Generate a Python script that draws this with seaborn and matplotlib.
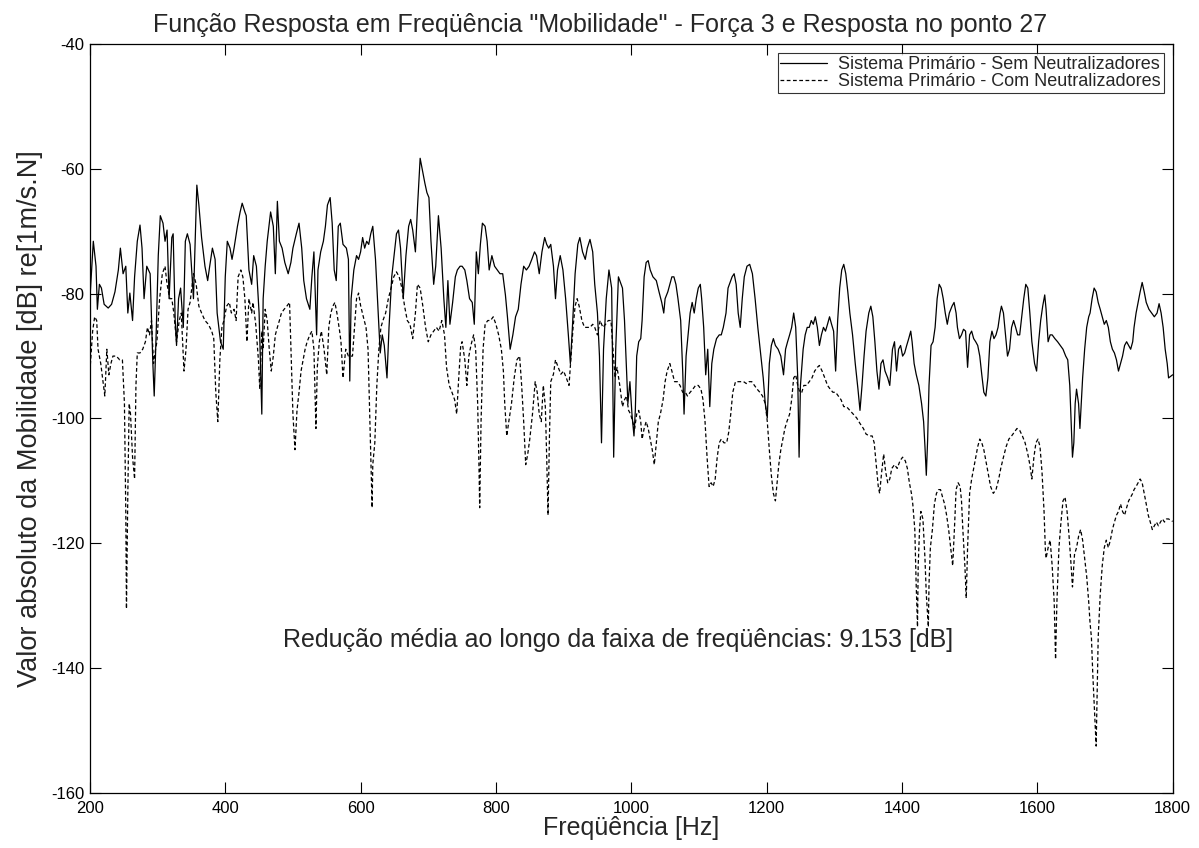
import matplotlib
matplotlib.use("Agg")
import matplotlib.pyplot as plt
import seaborn as sns
import pandas as pd

# Estilo parecido com o MATLAB
sns.set_style("ticks")
plt.rcParams["font.family"] = ["Liberation Sans", "DejaVu Sans"]
plt.rcParams["axes.unicode_minus"] = False

# Sistema primario - sem neutralizadores (Hz, dB)
freq_sem = [200, 205, 209, 211, 214, 217, 221, 227, 232, 237, 242, 245, 249, 253, 256, 259, 263, 266, 270, 274,
            277, 280, 284, 289, 293, 295, 298, 301, 304, 308, 311, 314, 317, 321, 323, 326, 328, 331, 334, 338,
            341, 344, 348, 353, 358, 361, 365, 370, 374, 377, 381, 385, 388, 393, 397, 400, 403, 407, 410, 413,
            418, 422, 425, 429, 431, 435, 439, 442, 446, 450, 454, 456, 459, 462, 467, 471, 474, 477, 480, 484,
            488, 493, 497, 500, 505, 509, 513, 516, 520, 525, 528, 531, 535, 537, 541, 545, 548, 551, 555, 558,
            561, 564, 567, 570, 574, 579, 582, 584, 586, 590, 594, 597, 600, 603, 606, 609, 612, 615, 618, 622,
            626, 629, 632, 635, 639, 642, 646, 650, 653, 656, 659, 663, 667, 671, 674, 677, 681, 684, 688, 691,
            695, 698, 701, 704, 708, 711, 715, 719, 723, 726, 729, 732, 736, 740, 743, 747, 750, 754, 757, 761,
            765, 768, 771, 774, 777, 780, 784, 787, 790, 794, 798, 802, 806, 810, 814, 817, 821, 825, 829, 833,
            837, 841, 845, 849, 853, 857, 860, 864, 868, 872, 875, 878, 881, 885, 888, 891, 895, 899, 903, 907,
            910, 913, 917, 921, 924, 928, 932, 935, 939, 943, 946, 950, 953, 956, 959, 963, 967, 971, 974, 977,
            981, 987, 990, 993, 995, 998, 1001, 1004, 1006, 1008, 1011, 1014, 1016, 1019, 1022, 1025, 1028, 1032,
            1037, 1041, 1045, 1048, 1050, 1054, 1057, 1060, 1063, 1066, 1069, 1073, 1076, 1078, 1081, 1084, 1087,
            1090, 1093, 1096, 1099, 1102, 1104, 1107, 1110, 1113, 1116, 1119, 1122, 1126, 1130, 1133, 1136, 1140,
            1143, 1147, 1149, 1152, 1155, 1158, 1161, 1164, 1167, 1171, 1175, 1179, 1183, 1187, 1191, 1195, 1198,
            1201, 1204, 1207, 1210, 1213, 1217, 1221, 1225, 1228, 1231, 1234, 1237, 1240, 1243, 1246, 1248, 1250,
            1254, 1257, 1260, 1263, 1266, 1269, 1272, 1275, 1278, 1281, 1284, 1287, 1290, 1293, 1296, 1299, 1302,
            1305, 1308, 1311, 1314, 1317, 1320, 1323, 1327, 1331, 1335, 1338, 1341, 1344, 1347, 1351, 1354, 1357,
            1360, 1363, 1366, 1369, 1372, 1375, 1379, 1382, 1386, 1389, 1392, 1395, 1398, 1401, 1404, 1407, 1410,
            1413, 1415, 1418, 1421, 1425, 1429, 1432, 1434, 1436, 1438, 1440, 1443, 1446, 1449, 1452, 1455, 1458,
            1461, 1464, 1467, 1470, 1474, 1477, 1480, 1482, 1485, 1488, 1491, 1494, 1497, 1500, 1503, 1506, 1509,
            1512, 1515, 1518, 1521, 1524, 1527, 1530, 1533, 1536, 1539, 1542, 1545, 1547, 1550, 1553, 1556, 1559,
            1562, 1565, 1568, 1571, 1574, 1577, 1580, 1583, 1586, 1589, 1592, 1596, 1599, 1602, 1605, 1608, 1611,
            1613, 1616, 1619, 1622, 1626, 1630, 1634, 1638, 1642, 1645, 1648, 1650, 1652, 1654, 1656, 1658, 1661,
            1663, 1665, 1667, 1670, 1673, 1676, 1678, 1681, 1684, 1687, 1690, 1693, 1696, 1699, 1702, 1705, 1708,
            1711, 1714, 1717, 1720, 1723, 1726, 1729, 1732, 1735, 1738, 1741, 1743, 1746, 1749, 1752, 1755, 1758,
            1761, 1765, 1769, 1773, 1777, 1780, 1783, 1786, 1789, 1792, 1794, 1800]
db_sem = [-80.8, -71.6, -75.6, -82.5, -78.5, -79.1, -81.7, -82.3, -81.7, -79.7, -76.2, -72.7, -76.8, -75.6, -83.1,
          -79.9, -84.3, -77.3, -71.6, -69.0, -72.7, -80.8, -75.6, -76.8, -91.2, -96.4, -86.0, -73.9, -67.5, -68.7,
          -71.6, -69.8, -80.8, -71.0, -70.4, -84.3, -88.3, -80.8, -79.1, -85.4, -71.6, -70.4, -72.1, -80.8, -62.6,
          -65.8, -71.0, -75.6, -77.9, -75.6, -72.7, -74.5, -83.1, -87.7, -88.9, -77.3, -71.6, -72.7, -74.5, -72.7,
          -69.2, -66.9, -65.5, -66.9, -67.5, -76.2, -78.5, -73.9, -75.6, -83.1, -99.3, -80.8, -75.6, -71.6, -66.9,
          -69.2, -76.8, -65.2, -71.6, -72.7, -75.0, -76.8, -75.0, -72.7, -70.4, -68.7, -72.7, -77.9, -80.8, -82.5,
          -77.3, -73.3, -86.6, -76.2, -73.3, -71.6, -69.2, -65.8, -64.6, -68.7, -76.2, -77.9, -69.2, -68.7, -72.1,
          -72.7, -74.5, -94.0, -80.8, -76.2, -73.9, -74.5, -73.3, -71.0, -72.7, -71.6, -72.1, -70.4, -69.2, -74.5,
          -83.1, -89.5, -86.6, -88.3, -93.5, -85.4, -77.3, -73.3, -70.4, -69.8, -72.7, -80.8, -73.9, -69.2, -68.1,
          -69.8, -73.3, -66.3, -58.3, -60.0, -62.3, -63.8, -64.6, -71.6, -78.5, -75.6, -67.5, -72.7, -80.8, -85.4,
          -77.9, -84.9, -81.4, -77.3, -76.2, -75.6, -75.6, -76.2, -77.9, -80.8, -81.4, -84.9, -73.3, -76.8, -72.1,
          -68.7, -69.2, -71.6, -76.2, -73.9, -75.6, -76.2, -76.8, -76.8, -80.2, -83.7, -88.9, -86.6, -83.7, -82.5,
          -78.5, -75.6, -76.2, -75.6, -74.5, -73.3, -73.9, -76.8, -73.3, -71.0, -72.1, -72.7, -72.1, -75.6, -80.8,
          -76.2, -73.9, -76.2, -80.8, -86.6, -91.2, -85.4, -76.8, -72.1, -71.0, -73.3, -74.5, -72.7, -71.3, -73.3,
          -78.5, -83.1, -90.0, -103.9, -88.9, -80.8, -76.2, -79.1, -106.2, -88.9, -77.3, -79.1, -84.3, -92.4, -97.6,
          -94.1, -99.3, -102.8, -98.7, -90.0, -87.7, -87.2, -84.3, -77.3, -75.0, -74.7, -76.2, -77.3, -77.9, -79.7,
          -81.4, -83.1, -80.8, -79.7, -78.5, -77.3, -77.3, -78.5, -80.8, -84.3, -92.4, -99.3, -90.0, -86.6, -83.1,
          -81.4, -83.1, -80.8, -79.1, -78.5, -80.8, -85.4, -93.0, -88.9, -98.1, -91.2, -88.9, -87.2, -86.6, -86.6,
          -85.4, -83.1, -79.1, -77.9, -77.3, -76.8, -78.5, -83.1, -85.4, -80.8, -77.3, -75.6, -75.3, -76.8, -80.8,
          -85.4, -89.5, -93.5, -97.6, -99.9, -91.2, -88.3, -87.2, -88.3, -88.9, -90.0, -93.0, -88.9, -87.7, -86.6,
          -85.4, -83.1, -85.4, -93.5, -106.2, -94.7, -88.9, -86.6, -85.4, -85.4, -84.3, -84.9, -83.7, -85.4, -88.3,
          -86.6, -85.4, -86.0, -84.9, -83.7, -84.9, -86.0, -92.4, -84.3, -79.1, -76.2, -75.3, -76.8, -79.7, -83.1,
          -86.6, -91.2, -95.3, -98.7, -94.7, -90.0, -86.0, -83.1, -82.0, -83.7, -87.7, -92.4, -95.3, -91.2, -90.6,
          -92.4, -93.5, -94.7, -88.9, -87.7, -92.4, -88.9, -88.3, -90.0, -89.5, -88.3, -87.2, -86.0, -87.7, -91.2,
          -92.9, -94.7, -97.6, -100.5, -104.5, -109.1, -103.3, -94.7, -88.3, -87.7, -85.4, -80.8, -78.5, -79.1,
          -80.8, -83.1, -84.9, -83.1, -82.0, -81.4, -83.1, -85.4, -87.2, -86.6, -85.7, -86.0, -91.8, -86.6, -86.0,
          -87.2, -87.7, -88.3, -90.0, -93.0, -95.8, -96.4, -93.5, -87.7, -86.0, -87.2, -86.6, -85.4, -83.1, -82.0,
          -83.1, -86.6, -90.0, -88.9, -85.4, -84.3, -85.4, -86.6, -86.6, -83.7, -80.8, -78.5, -79.1, -83.1, -87.7,
          -91.2, -92.4, -87.7, -84.3, -82.0, -80.2, -82.5, -87.7, -86.6, -86.6, -87.2, -87.7, -88.3, -88.9, -90.0,
          -90.6, -94.7, -100.5, -106.2, -103.9, -97.6, -95.3, -97.6, -101.6, -97.6, -93.5, -88.9, -85.4, -83.7,
          -83.1, -80.8, -79.1, -79.7, -81.4, -82.5, -83.7, -84.9, -84.3, -85.4, -87.7, -88.9, -89.5, -90.6, -92.4,
          -91.2, -90.0, -88.3, -87.7, -88.3, -88.9, -87.7, -85.4, -83.1, -81.4, -79.7, -78.2, -79.7, -81.4, -82.5,
          -83.1, -83.7, -83.1, -81.6, -83.1, -85.4, -88.9, -91.2, -93.5, -93.0]

# Sistema primario - com neutralizadores (Hz, dB)
freq_com = [200, 204, 207, 210, 212, 216, 220, 222, 225, 228, 231, 234, 239, 244, 248, 251, 253, 254, 256, 258,
            260, 263, 266, 268, 270, 274, 278, 282, 285, 288, 291, 294, 297, 299, 303, 307, 311, 314, 318, 321,
            324, 328, 332, 335, 339, 342, 345, 348, 353, 357, 361, 365, 370, 375, 380, 383, 386, 389, 392, 395,
            398, 402, 406, 409, 413, 416, 419, 423, 426, 429, 432, 435, 439, 441, 445, 449, 451, 454, 456, 459,
            462, 465, 468, 471, 474, 477, 480, 483, 487, 491, 495, 498, 500, 503, 506, 509, 512, 515, 518, 521,
            525, 528, 531, 534, 536, 539, 542, 546, 550, 553, 556, 559, 562, 565, 569, 571, 574, 578, 582, 588,
            591, 594, 597, 600, 604, 608, 611, 613, 615, 617, 618, 621, 624, 627, 630, 633, 637, 641, 645, 649,
            653, 657, 661, 665, 669, 673, 677, 681, 684, 688, 692, 696, 700, 704, 708, 712, 716, 720, 724, 727,
            731, 735, 739, 742, 745, 748, 750, 754, 757, 760, 763, 767, 770, 773, 775, 776, 778, 781, 784, 788,
            792, 796, 800, 804, 808, 811, 813, 816, 819, 823, 827, 831, 835, 838, 841, 844, 847, 850, 854, 858,
            861, 864, 867, 870, 873, 875, 877, 879, 881, 885, 888, 892, 896, 900, 904, 908, 911, 914, 917, 920,
            923, 927, 931, 935, 939, 943, 946, 950, 954, 958, 962, 966, 970, 973, 976, 979, 983, 987, 990, 993,
            996, 999, 1002, 1005, 1008, 1011, 1014, 1016, 1019, 1022, 1025, 1028, 1031, 1034, 1037, 1040, 1043,
            1047, 1050, 1053, 1057, 1060, 1064, 1068, 1072, 1076, 1080, 1083, 1087, 1091, 1095, 1099, 1103, 1106,
            1109, 1112, 1115, 1118, 1121, 1124, 1127, 1130, 1133, 1137, 1141, 1144, 1147, 1150, 1154, 1158, 1162,
            1166, 1170, 1174, 1178, 1182, 1186, 1190, 1194, 1198, 1201, 1204, 1207, 1210, 1213, 1215, 1218, 1221,
            1224, 1227, 1230, 1234, 1237, 1240, 1243, 1246, 1249, 1252, 1255, 1259, 1263, 1267, 1271, 1275, 1278,
            1282, 1286, 1290, 1294, 1298, 1302, 1306, 1310, 1314, 1318, 1323, 1328, 1333, 1338, 1343, 1347, 1352,
            1356, 1359, 1362, 1365, 1367, 1370, 1373, 1376, 1379, 1382, 1385, 1389, 1393, 1397, 1401, 1405, 1408,
            1411, 1414, 1416, 1419, 1421, 1423, 1424, 1426, 1428, 1431, 1434, 1436, 1439, 1440, 1442, 1445, 1448,
            1451, 1454, 1457, 1460, 1463, 1466, 1469, 1472, 1475, 1478, 1480, 1483, 1486, 1488, 1490, 1493, 1495,
            1497, 1500, 1503, 1506, 1509, 1512, 1515, 1518, 1521, 1525, 1528, 1531, 1535, 1539, 1543, 1546, 1550,
            1554, 1558, 1562, 1566, 1570, 1574, 1578, 1582, 1586, 1589, 1592, 1595, 1598, 1601, 1604, 1607, 1610,
            1612, 1613, 1616, 1619, 1622, 1625, 1627, 1629, 1632, 1635, 1638, 1641, 1644, 1647, 1650, 1652, 1655,
            1658, 1661, 1664, 1667, 1670, 1673, 1676, 1678, 1680, 1682, 1685, 1687, 1690, 1693, 1696, 1699, 1702,
            1705, 1708, 1711, 1714, 1717, 1720, 1723, 1726, 1729, 1732, 1735, 1738, 1741, 1743, 1746, 1749, 1752,
            1755, 1758, 1761, 1764, 1767, 1770, 1773, 1776, 1779, 1782, 1785, 1788, 1791, 1794, 1800]
db_com = [-92.4, -86.0, -83.7, -84.3, -88.9, -91.2, -94.7, -96.4, -88.9, -93.0, -91.2, -90.0, -90.0, -90.6, -90.6,
          -97.6, -114.9, -130.5, -112.0, -97.6, -99.3, -106.2, -109.7, -94.7, -89.5, -89.5, -88.9, -87.7, -85.4,
          -86.6, -84.3, -91.2, -88.9, -87.7, -80.8, -76.8, -75.6, -78.5, -80.8, -80.8, -83.1, -87.7, -84.3, -83.1,
          -92.4, -88.9, -82.5, -81.4, -76.8, -78.5, -82.0, -83.1, -84.3, -84.9, -86.0, -87.2, -95.8, -100.5, -90.6,
          -85.4, -84.3, -82.0, -81.4, -83.1, -82.5, -84.3, -77.3, -76.2, -77.3, -80.8, -87.7, -80.8, -83.1, -81.4,
          -84.9, -90.6, -95.3, -86.0, -88.9, -82.5, -84.3, -88.9, -92.4, -90.0, -86.6, -85.4, -84.3, -83.1, -82.5,
          -82.0, -81.4, -91.8, -99.3, -105.0, -98.7, -95.8, -92.4, -90.6, -88.9, -87.7, -86.6, -86.0, -88.9, -101.6,
          -91.8, -87.7, -86.0, -88.9, -93.0, -85.4, -83.1, -82.0, -81.4, -83.1, -86.0, -87.7, -93.5, -88.9, -90.0,
          -90.0, -85.4, -80.8, -79.9, -81.9, -83.7, -85.4, -88.9, -97.6, -106.2, -114.3, -107.4, -103.9, -94.7,
          -88.9, -85.4, -84.3, -83.1, -80.8, -79.1, -77.3, -76.5, -77.3, -79.1, -82.0, -84.3, -84.9, -87.2, -83.1,
          -78.5, -79.1, -82.0, -85.4, -87.7, -86.6, -86.0, -85.4, -86.0, -84.3, -86.6, -91.8, -94.7, -95.8, -97.0,
          -99.3, -93.5, -88.3, -87.7, -90.6, -94.7, -90.0, -88.3, -86.6, -88.9, -97.6, -108.0, -114.3, -100.5,
          -88.9, -84.9, -84.3, -84.3, -83.7, -84.9, -86.6, -88.9, -92.4, -97.6, -102.8, -100.5, -97.6, -93.5, -90.6,
          -90.0, -94.7, -100.5, -107.4, -105.7, -103.3, -99.3, -94.1, -95.8, -99.3, -100.5, -94.7, -98.1, -106.2,
          -115.5, -103.3, -94.1, -92.9, -90.6, -91.8, -92.9, -92.4, -93.5, -94.7, -90.0, -85.4, -82.0, -80.8, -82.0,
          -84.3, -85.4, -85.4, -85.4, -84.9, -85.4, -86.6, -84.3, -85.4, -84.9, -84.3, -84.3, -88.9, -93.5, -91.8,
          -94.7, -98.1, -97.0, -96.4, -98.7, -99.3, -100.5, -101.6, -99.3, -98.7, -100.5, -103.3, -101.6, -100.5,
          -101.6, -103.3, -105.0, -107.4, -103.9, -100.5, -99.3, -97.0, -94.1, -92.4, -91.2, -92.4, -94.1, -94.1,
          -94.7, -95.8, -95.8, -96.4, -95.8, -95.3, -94.7, -94.7, -95.3, -97.0, -100.5, -106.2, -110.9, -110.3,
          -110.9, -109.7, -106.2, -103.9, -103.3, -103.9, -103.9, -102.2, -99.3, -95.8, -94.1, -94.1, -94.1, -94.1,
          -94.4, -94.1, -94.1, -94.7, -95.3, -95.8, -96.4, -97.6, -100.5, -105.0, -109.1, -112.0, -113.2, -110.9,
          -107.4, -105.0, -103.3, -101.6, -100.5, -99.3, -97.0, -93.5, -93.0, -94.7, -95.8, -95.8, -94.7, -94.7,
          -94.1, -93.5, -92.4, -91.8, -91.5, -92.4, -93.5, -94.7, -95.3, -95.8, -95.8, -96.4, -97.0, -98.1, -98.1,
          -98.7, -99.3, -99.9, -100.8, -101.6, -102.5, -102.8, -102.8, -103.9, -107.4, -110.9, -112.0, -108.6,
          -105.7, -108.6, -110.3, -109.7, -108.0, -107.4, -108.0, -106.8, -106.2, -106.8, -108.0, -110.3, -112.0,
          -113.7, -117.8, -126.5, -133.4, -123.6, -117.8, -114.9, -116.1, -122.4, -128.2, -133.4, -126.5, -120.7,
          -117.8, -113.7, -112.0, -111.4, -111.4, -112.6, -113.7, -115.5, -117.8, -120.7, -123.6, -116.6, -111.4,
          -110.3, -110.9, -113.2, -117.8, -123.6, -128.8, -120.7, -112.0, -109.7, -108.0, -106.2, -104.5, -103.3,
          -103.9, -105.0, -107.4, -109.1, -110.9, -112.0, -111.4, -109.7, -108.0, -106.2, -104.5, -103.3, -102.8,
          -102.2, -101.6, -101.9, -102.8, -103.9, -105.7, -107.4, -109.7, -106.2, -103.9, -103.3, -104.5, -108.6,
          -114.9, -121.2, -122.4, -120.7, -119.5, -123.6, -129.4, -138.6, -129.4, -120.7, -116.6, -113.2, -112.6,
          -114.9, -118.9, -123.6, -127.0, -121.8, -120.7, -118.9, -117.8, -119.5, -122.4, -125.3, -129.4, -132.8,
          -135.1, -140.9, -148.0, -152.5, -135.1, -128.2, -123.6, -120.7, -119.5, -120.7, -119.5, -117.8, -116.6,
          -115.5, -114.9, -113.7, -114.9, -115.5, -114.3, -113.2, -112.6, -112.0, -111.4, -110.9, -110.3, -109.7,
          -110.3, -112.0, -113.7, -115.5, -116.6, -117.8, -117.2, -116.6, -117.2, -116.6, -116.1, -116.6, -116.1,
          -116.1, -116.5]

titulo = 'Função Resposta em Freqüência "Mobilidade" - Força 3 e Resposta no ponto 27'
legenda = ["Sistema Primário - Sem Neutralizadores", "Sistema Primário - Com Neutralizadores"]
reducao = "Redução média ao longo da faixa de freqüências: 9.153 [dB]"

df_sem = pd.DataFrame({"freq": freq_sem, "db": db_sem})
df_com = pd.DataFrame({"freq": freq_com, "db": db_com})

fig = plt.figure(figsize=(11.99, 8.48), dpi=100)
ax = fig.add_axes([0.075, 0.065, 0.903, 0.883])

sns.lineplot(data=df_sem, x="freq", y="db", ax=ax, color="black", linewidth=0.9,
             label=legenda[0], estimator=None, sort=False)
sns.lineplot(data=df_com, x="freq", y="db", ax=ax, color="black", linewidth=0.9,
             linestyle=(0, (3, 2)), label=legenda[1], estimator=None, sort=False)

ax.set_xlim(200, 1800)
ax.set_ylim(-160, -40)
ax.set_xticks(range(200, 1801, 200))
ax.set_yticks(range(-160, -39, 20))
ax.tick_params(direction="in", length=8, width=0.8, top=True, right=True,
               labelsize=12, colors="black")
ax.tick_params(axis="x", pad=6)
ax.tick_params(axis="y", pad=4)
for s in ax.spines.values():
    s.set_linewidth(0.9)
    s.set_color("black")

# titulo um pouco a esquerda do centro dos eixos, como no original
ax.set_title(titulo, fontsize=18, pad=9, x=0.471)
ax.set_xlabel("Freqüência [Hz]", fontsize=18, labelpad=0)
ax.set_ylabel("Valor absoluto da Mobilidade [dB] re[1m/s.N]", fontsize=19.5, labelpad=6)

ax.text(485, -135.5, reducao, fontsize=18, va="center", ha="left")

leg = ax.legend(loc="upper right", fontsize=13, frameon=True, fancybox=False,
                handlelength=2.6, borderpad=0.15, labelspacing=0.0, borderaxespad=0.5,
                handletextpad=0.6)
leg.get_frame().set_edgecolor("black")
leg.get_frame().set_linewidth(0.8)

fig.savefig("out.png", dpi=100, facecolor="white")
